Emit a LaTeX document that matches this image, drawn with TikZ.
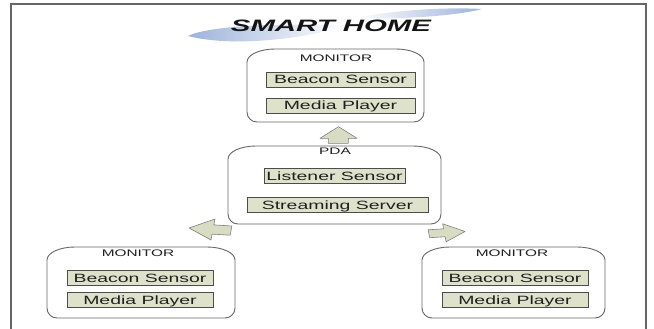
\documentclass[tikz,border=0pt]{standalone}
\usepackage{fontspec}
\setmainfont{Liberation Sans}
\newfontfamily\boxfont[FakeStretch=1.62]{Liberation Sans}
\newfontfamily\titlefont[FakeStretch=1.78]{Liberation Sans}
\definecolor{innerfill}{HTML}{DFE2CB}
\definecolor{arrowfill}{HTML}{D8DCC2}
\definecolor{swooshblue}{HTML}{9DB3DA}
\newcommand{\monframe}[5]{%
  \path[outerbox] (#2,-#3-13) arc[start angle=180,end angle=90,x radius=28,y radius=13]
    -- (#4-28,-#3) arc[start angle=90,end angle=0,x radius=28,y radius=13]
    -- (#4,-#5+10) arc[start angle=0,end angle=-90,radius=10]
    -- (#2+10,-#5) arc[start angle=270,end angle=180,radius=10] -- cycle;
  \coordinate (#1) at ({(#2+#4)/2},{-(#3+#5)/2});
}
\begin{document}
\begin{tikzpicture}[x=1pt,y=1pt,
  frameline/.style={draw=black!60, line width=1.4pt},
  outerbox/.style={draw=black!60, line width=0.9pt, fill=white},
  innerbox/.style={draw=black!70, line width=0.7pt, fill=innerfill, minimum height=15pt,
    inner sep=0pt, text height=8.6pt, text depth=0pt,
    font=\boxfont\fontsize{12}{14}\selectfont, text=black!88},
  header/.style={font=\boxfont\fontsize{9.5}{11}\selectfont, inner sep=0pt, anchor=base, text=black!88},
  blockarrow/.style={draw=black!50, line width=0.6pt, fill=arrowfill, line join=round},
]
\useasboundingbox (0,0) rectangle (654,-329);
% frame
\draw[frameline] (11,-329) -- (11,-4) -- (646,-4) -- (646,-329);
% swoosh: left lobe and right lobe
\path[left color=swooshblue, right color=white]
  (188,-36) .. controls (205,-27) and (270,-22) .. (345,-26)
  .. controls (300,-40) and (230,-47) .. (188,-36) -- cycle;
\path[left color=white, right color=swooshblue]
  (355,-18) .. controls (395,-10) and (445,-7) .. (482,-9)
  .. controls (460,-15) and (405,-20) .. (355,-18) -- cycle;
\node[font=\titlefont\bfseries\itshape\fontsize{16.5}{19}\selectfont, anchor=base, inner sep=0pt, text=black!92] (title) at (331,-32) {SMART HOME};

% top monitor
\monframe{mtop}{247}{49}{424}{122}
\node[header] (mtoph) at (336,-61.7) {MONITOR};
\node[innerbox, minimum width=149pt] (mtopb) at (340.5,-79.5) {Beacon Sensor};
\node[innerbox, minimum width=149pt] (mtopm) at (340.5,-105.5) {Media Player};

% PDA
\monframe{pda}{228}{146}{441}{224}
\node[header] (pdah) at (335,-154.5) {PDA};
\node[innerbox, minimum width=141pt] (pdal) at (334.5,-176) {Listener Sensor};
\node[innerbox, minimum width=181pt] (pdas) at (337.5,-205) {Streaming Server};

% bottom-left monitor
\monframe{mleft}{47}{247}{235}{318}
\node[header] (mlefth) at (138,-256.7) {MONITOR};
\node[innerbox, minimum width=146pt] (mleftb) at (140,-278) {Beacon Sensor};
\node[innerbox, minimum width=146pt] (mleftm) at (140,-300) {Media Player};

% bottom-right monitor
\monframe{mright}{422}{247}{605}{318}
\node[header] (mrighth) at (512,-256.7) {MONITOR};
\node[innerbox, minimum width=146pt] (mrightb) at (515,-278) {Beacon Sensor};
\node[innerbox, minimum width=146pt] (mrightm) at (515,-300) {Media Player};

% up arrow
\draw[blockarrow] (328.3,-143.3) -- (328.3,-138.3) -- (320,-138.3) -- (338.5,-126.7)
  -- (357,-138.3) -- (348.3,-138.3) -- (348.3,-143.3) -- cycle;

% left arrow (tip at its left end)
\begin{scope}[shift={(189,-228)}]
\draw[blockarrow] (0,0) -- (26,9) -- (24.9,3.1) -- (42.9,2) -- (41.1,-7.2) -- (23.1,-6.1) -- (22,-12) -- cycle;
\end{scope}
% right arrow (mirror image)
\begin{scope}[shift={(465,-231.5)}, xscale=-0.86, yscale=0.86]
\draw[blockarrow] (0,0) -- (26,9) -- (24.9,3.1) -- (42.9,2) -- (41.1,-7.2) -- (23.1,-6.1) -- (22,-12) -- cycle;
\end{scope}
\end{tikzpicture}
\end{document}
